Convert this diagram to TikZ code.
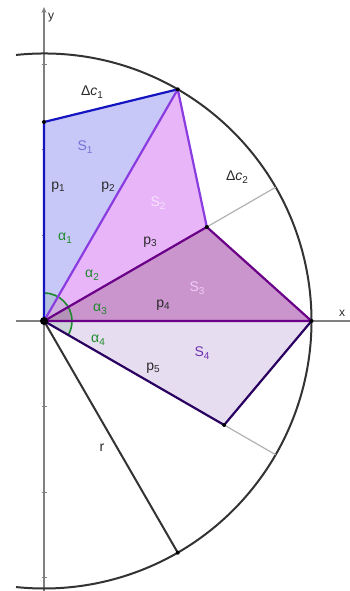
\documentclass[tikz,border=0pt]{standalone}
\usepackage{fontspec}
\setmainfont{Liberation Sans}
\usetikzlibrary{arrows.meta}
\definecolor{sonefill}{HTML}{C8C8F8}
\definecolor{soneline}{HTML}{1414C0}
\definecolor{stwofill}{HTML}{E8B6F8}
\definecolor{stwoline}{HTML}{8A3CE0}
\definecolor{sthreefill}{HTML}{CA94CC}
\definecolor{sthreeline}{HTML}{6A0088}
\definecolor{sfourfill}{HTML}{E6DEF0}
\definecolor{sfourline}{HTML}{2A0060}
\definecolor{anggreen}{HTML}{1E8A2E}
\definecolor{txtgray}{HTML}{2A2A2A}
\newcommand\lsub[1]{\raisebox{-0.35ex}{\fontsize{10}{10}\selectfont #1}}
\begin{document}
\begin{tikzpicture}[x=1pt,y=1pt,
  lbl/.style={font=\fontsize{14}{15}\selectfont, inner sep=0pt, text=txtgray},
  axlbl/.style={font=\fontsize{12}{13}\selectfont, inner sep=0pt, text=txtgray},
  vdot/.style={circle, fill=black, inner sep=0pt, minimum size=4pt},
  poly/.style={line width=2.2pt, line join=round, line cap=round},
  axis/.style={draw=gray, line width=1.3pt},
  tick/.style={draw=gray, line width=0.9pt}]
\useasboundingbox (-44,-270) rectangle (306,321);
\fill[white] (-44,-270) rectangle (306,321);
\def\R{267.5}
\coordinate (O) at (0,0);
\coordinate (A1) at (0,199);
\coordinate (P1) at (60:\R);
\coordinate (A2) at (30:188);
\coordinate (P3) at (\R,0);
\coordinate (A4) at (-30:208);
\coordinate (Rr) at (-60:\R);
\coordinate (G2) at (30:\R);
\coordinate (G4) at (-30:\R);
\coordinate (xl) at (-28,0);
\coordinate (xr) at (306,0);
\coordinate (yb) at (0,-270);
\coordinate (yt) at (0,314);
% axes
\draw[axis] (xl) -- (xr);
\draw[axis, -{Stealth[length=6pt,width=5pt]}] (yb) -- (yt);
\foreach \k in {1,2,3}{
  \draw[tick] (\k*85.6,-2.5) -- (\k*85.6,2.5);
  \draw[tick] (-2.5,\k*85.6) -- (2.5,\k*85.6);
  \draw[tick] (-2.5,-\k*85.6) -- (2.5,-\k*85.6);
}
% circle arc
\draw[line width=2pt, draw=black!80] (96:\R) arc[start angle=96, end angle=-96, radius=\R];
% fills
\fill[sonefill] (O) -- (A1) -- (P1) -- cycle;
\fill[stwofill] (O) -- (P1) -- (A2) -- cycle;
\fill[sthreefill] (O) -- (A2) -- (P3) -- cycle;
\fill[sfourfill] (O) -- (P3) -- (A4) -- cycle;
% grey gap lines
\draw[gray!60, line width=1.2pt] (A2) -- (G2);
\draw[gray!60, line width=1.2pt] (A4) -- (G4);
% radius
\draw[black!80, line width=2pt] (O) -- (Rr);
% angle marker
\fill[anggreen, opacity=0.12] (O) -- (90:28) arc[start angle=90, end angle=-30, radius=28] -- cycle;
\draw[anggreen, line width=1.6pt] (90:28) arc[start angle=90, end angle=-30, radius=28];
% edges
\draw[poly, soneline] (O) -- (A1) -- (P1);
\draw[poly, stwoline] (O) -- (P1) -- (A2);
\draw[poly, sthreeline] (O) -- (A2) -- (P3) -- (O);
\draw[poly, sfourline] (P3) -- (A4) -- (O);
% points
\foreach \p in {A1,P1,A2,P3,A4,Rr}{\node[vdot] at (\p) {};}
\node[circle, fill=black, inner sep=0pt, minimum size=8pt] (Odot) at (O) {};
% labels
\node[lbl] (dc1) at (48,229) {Δ\textit{c}\lsub{1}};
\node[lbl] (dc2) at (193,144) {Δ\textit{c}\lsub{2}};
\node[lbl, text=soneline!60] (s1) at (41,174) {S\lsub{1}};
\node[lbl, text=stwofill!40] (s2) at (114,118) {S\lsub{2}};
\node[lbl, text=stwofill!70] (s3) at (153,33) {S\lsub{3}};
\node[lbl, text=stwoline!80!black] (s4) at (158,-32) {S\lsub{4}};
\node[lbl] (p1) at (14,134) {p\lsub{1}};
\node[lbl] (p2) at (64,134) {p\lsub{2}};
\node[lbl] (p3) at (106,79) {p\lsub{3}};
\node[lbl] (p4) at (119,16) {p\lsub{4}};
\node[lbl] (p5) at (109,-47) {p\lsub{5}};
\node[lbl, text=anggreen] (a1) at (21,83) {α\lsub{1}};
\node[lbl, text=anggreen] (a2) at (48,46) {α\lsub{2}};
\node[lbl, text=anggreen] (a3) at (56,12) {α\lsub{3}};
\node[lbl, text=anggreen] (a4) at (54,-19) {α\lsub{4}};
\node[lbl] (rl) at (58,-127) {r};
\node[axlbl] (xlab) at (298,8) {x};
\node[axlbl] (ylab) at (7,303) {y};
\end{tikzpicture}
\end{document}
